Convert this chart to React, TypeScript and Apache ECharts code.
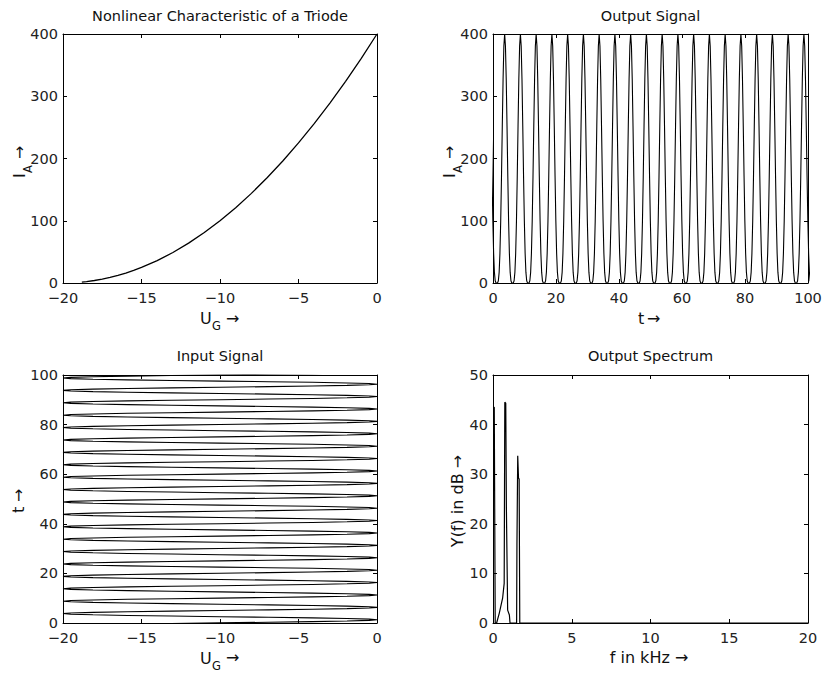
import React, { useEffect, useRef } from "react";
import * as echarts from "echarts";

const FONT = "DejaVu Sans";

// ---- Nonlinear characteristic of a triode ----
const triodeUG = [-18.8, -18.5, -18, -17.5, -17, -16.5, -16, -15.5, -15, -14, -13, -12, -11, -10, -9, -8, -7, -6, -5, -4, -3, -2, -1, 0];
const triodeIA = [1.4, 2.3, 4, 6.3, 9, 12.3, 16, 20.3, 25, 36, 49, 64, 81, 100, 121, 144, 169, 196, 225, 256, 289, 324, 361, 400];

// ---- One period of the periodic signals (offset from a peak, period 5) ----
const cycleOffsets = [-2.5, -2.25, -2, -1.75, -1.5, -1.25, -1, -0.75, -0.5, -0.25, 0, 0.25, 0.5, 0.75, 1, 1.25, 1.5, 1.75, 2, 2.25];
const outputCycleIA = [0, 0.2, 3.6, 17, 47.7, 100, 171.4, 252.2, 327.2, 380.6, 400, 380.6, 327.2, 252.2, 171.4, 100, 47.7, 17, 3.6, 0.2];
const inputCycleUG = [-20, -19.51, -18.09, -15.88, -13.09, -10, -6.91, -4.12, -1.91, -0.49, 0, -0.49, -1.91, -4.12, -6.91, -10, -13.09, -15.88, -18.09, -19.51];

// peak times
const outputPeakTimes = [-1.3, 3.7, 8.7, 13.7, 18.7, 23.7, 28.7, 33.7, 38.7, 43.7, 48.7, 53.7, 58.7, 63.7, 68.7, 73.7, 78.7, 83.7, 88.7, 93.7, 98.7];
const inputPeakTimes = [1.3, 6.3, 11.3, 16.3, 21.3, 26.3, 31.3, 36.3, 41.3, 46.3, 51.3, 56.3, 61.3, 66.3, 71.3, 76.3, 81.3, 86.3, 91.3, 96.3, 101.3];

// ---- Output spectrum ----
const specFreq = [0, 0.08, 0.14, 0.23, 0.4, 0.61, 0.71, 0.75, 0.81, 0.85, 0.93, 1.04, 1.08, 1.5, 1.52, 1.57, 1.62, 1.66, 1.7, 20];
const specDb = [43.5, 43.5, 0, 0, 2, 5, 8, 44.5, 44.3, 23.2, 2.6, 1.6, 0, 0, 15.8, 33.7, 29.2, 29, 0, 0];

// ---- Titles ----
const titles = ["Nonlinear Characteristic of a Triode", "Output Signal", "Input Signal", "Output Spectrum"];

// axis ranges: [min, max, interval]
const axisRanges = [
  { x: [-20, 0, 5], y: [0, 400, 100] },
  { x: [0, 100, 20], y: [0, 400, 100] },
  { x: [-20, 0, 5], y: [0, 100, 20] },
  { x: [0, 20, 5], y: [0, 50, 10] },
];

const grids = [
  { left: 63, top: 34, width: 314, height: 249 },
  { left: 493, top: 34, width: 315, height: 249 },
  { left: 63, top: 375, width: 314, height: 248 },
  { left: 493, top: 375, width: 315, height: 248 },
];

const fmt = (v: number) => (v < 0 ? "\u2212" + Math.abs(v) : String(v));

function txt(x: number, y: number, text: string, size: number, align = "left") {
  return {
    type: "text",
    x,
    y,
    silent: true,
    style: { text, fontFamily: FONT, fontSize: size, fill: "#111", align, verticalAlign: "middle" },
  };
}

export default function App() {
  const ref = useRef<HTMLDivElement>(null);
  useEffect(() => {
    if (!ref.current) return;
    const chart = echarts.init(ref.current, undefined, { renderer: "svg" });

    const xAxis: any[] = [];
    const yAxis: any[] = [];
    const lineCol = "#000";
    axisRanges.forEach((r, g) => {
      const base = {
        gridIndex: g,
        type: "value",
        splitLine: { show: false },
        axisLine: { show: true, onZero: false, lineStyle: { color: lineCol, width: 1 } },
        axisTick: { show: true, inside: true, length: 4, lineStyle: { color: lineCol } },
      };
      xAxis.push({
        ...base,
        position: "bottom",
        min: r.x[0],
        max: r.x[1],
        interval: r.x[2],
        axisLabel: { color: "#222", fontFamily: FONT, fontSize: 14.5, margin: 7, formatter: fmt },
      });
      xAxis.push({
        ...base,
        position: "top",
        min: r.x[0],
        max: r.x[1],
        interval: r.x[2],
        axisLabel: { show: false },
      });
      yAxis.push({
        ...base,
        position: "left",
        min: r.y[0],
        max: r.y[1],
        interval: r.y[2],
        axisLabel: { color: "#222", fontFamily: FONT, fontSize: 14.5, margin: 5, formatter: fmt },
      });
      yAxis.push({
        ...base,
        position: "right",
        min: r.y[0],
        max: r.y[1],
        interval: r.y[2],
        axisLabel: { show: false },
      });
    });

    const lineSeries = (g: number, data: number[][], width: number) => ({
      type: "line",
      xAxisIndex: g * 2,
      yAxisIndex: g * 2,
      data,
      showSymbol: false,
      symbol: "none",
      clip: true,
      silent: true,
      lineStyle: { color: "#000", width },
    });

    const triodeData = triodeUG.map((u, i) => [u, triodeIA[i]]);
    const outputData = outputPeakTimes.flatMap((p) => cycleOffsets.map((o, i) => [p + o, outputCycleIA[i]]));
    const inputData = inputPeakTimes.flatMap((p) => cycleOffsets.map((o, i) => [inputCycleUG[i], p + o]));
    const specData = specFreq.map((f, i) => [f, specDb[i]]);

    const graphic: any[] = [
      txt(220, 16, titles[0], 14.5, "center"),
      txt(650.5, 16, titles[1], 14.5, "center"),
      txt(220, 356, titles[2], 14.5, "center"),
      txt(650.5, 356, titles[3], 14.5, "center"),
      // x axis names
      txt(200, 318.5, "U", 16),
      txt(212, 326, "G", 11.5),
      txt(226, 318, "\u2192", 16),
      txt(638, 318, "t", 16),
      txt(647, 318, "\u2192", 16),
      txt(200, 658, "U", 16),
      txt(212, 666, "G", 11.5),
      txt(226, 657.5, "\u2192", 16),
      txt(649, 657, "f in kHz \u2192", 16, "center"),
      // y axis names (rotated)
      {
        type: "group",
        x: 19,
        y: 178,
        rotation: Math.PI / 2,
        children: [txt(0, 0, "I", 16), txt(5, 9, "A", 11.5), txt(19, 0, "\u2192", 16)],
      },
      {
        type: "group",
        x: 449,
        y: 178,
        rotation: Math.PI / 2,
        children: [txt(0, 0, "I", 16), txt(5, 9, "A", 11.5), txt(19, 0, "\u2192", 16)],
      },
      {
        type: "group",
        x: 18,
        y: 513,
        rotation: Math.PI / 2,
        children: [txt(0, 0, "t", 16), txt(11, 0, "\u2192", 16)],
      },
      {
        type: "group",
        x: 457,
        y: 501,
        rotation: Math.PI / 2,
        children: [txt(0, 0, "Y(f) in dB \u2192", 16, "center")],
      },
    ];

    chart.setOption({
      animation: false,
      backgroundColor: "#fff",
      grid: grids.map((g) => ({ ...g, containLabel: false })),
      xAxis,
      yAxis,
      series: [
        lineSeries(0, triodeData, 1.3),
        lineSeries(1, outputData, 1.1),
        lineSeries(2, inputData, 1.1),
        lineSeries(3, specData, 1.2),
      ],
      graphic,
    });
    return () => chart.dispose();
  }, []);

  return <div ref={ref} style={{ position: "absolute", left: 0, top: 0, width: 828, height: 673 }} />;
}
